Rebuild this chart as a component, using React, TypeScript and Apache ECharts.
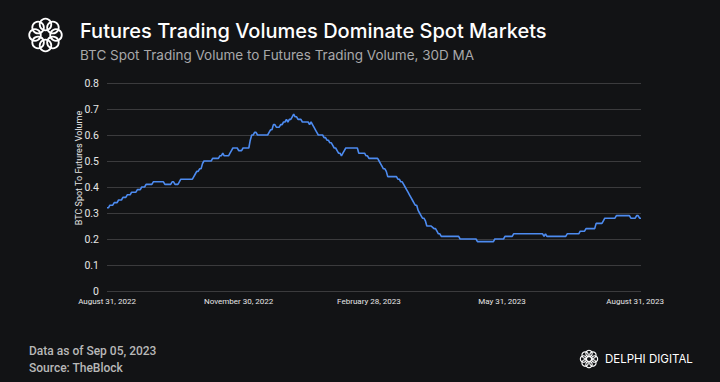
import React, { useEffect, useRef } from "react";
import * as echarts from "echarts";

const TITLE = "Futures Trading Volumes Dominate Spot Markets";
const SUBTITLE = "BTC Spot Trading Volume to Futures Trading Volume, 30D MA";
const Y_NAME = "BTC Spot To Futures Volume";
const FOOT_1 = "Data as of Sep 05, 2023";
const FOOT_2 = "Source: TheBlock";
const BRAND = "DELPHI DIGITAL";

const START_DATE = "2022-08-31";
const tickDates = ["2022-08-31", "2022-11-30", "2023-02-28", "2023-05-31", "2023-08-31"];
const tickLabels = ["August 31, 2022", "November 30, 2022", "February 28, 2023", "May 31, 2023", "August 31, 2023"];

// daily values, Aug 31 2022 -> Sep 4 2023
const ratio = [
  0.32, 0.32, 0.33, 0.33, 0.33, 0.34, 0.34, 0.34, 0.35, 0.35,
  0.35, 0.36, 0.36, 0.36, 0.37, 0.37, 0.37, 0.38, 0.38, 0.38,
  0.38, 0.39, 0.39, 0.39, 0.40, 0.40, 0.40, 0.41, 0.41, 0.41,
  0.41, 0.41, 0.42, 0.42, 0.42, 0.42, 0.42, 0.42, 0.42, 0.42,
  0.41, 0.41, 0.41, 0.41, 0.41, 0.42, 0.42, 0.41, 0.41, 0.41,
  0.42, 0.43, 0.43, 0.43, 0.43, 0.43, 0.43, 0.43, 0.43, 0.43,
  0.44, 0.45, 0.46, 0.46, 0.47, 0.47, 0.49, 0.50, 0.50, 0.50,
  0.50, 0.50, 0.50, 0.51, 0.51, 0.51, 0.51, 0.51, 0.52, 0.52,
  0.53, 0.52, 0.52, 0.52, 0.52, 0.53, 0.54, 0.55, 0.55, 0.55,
  0.55, 0.54, 0.54, 0.54, 0.55, 0.55, 0.55, 0.55, 0.55, 0.58,
  0.60, 0.60, 0.61, 0.61, 0.60, 0.60, 0.60, 0.60, 0.60, 0.60,
  0.60, 0.60, 0.61, 0.62, 0.62, 0.64, 0.64, 0.63, 0.63, 0.63,
  0.64, 0.64, 0.65, 0.65, 0.66, 0.65, 0.66, 0.66, 0.67, 0.68,
  0.67, 0.67, 0.66, 0.66, 0.66, 0.65, 0.65, 0.65, 0.65, 0.65,
  0.64, 0.65, 0.64, 0.63, 0.62, 0.61, 0.60, 0.60, 0.60, 0.60,
  0.59, 0.59, 0.58, 0.58, 0.57, 0.57, 0.56, 0.55, 0.55, 0.54,
  0.53, 0.53, 0.52, 0.53, 0.54, 0.55, 0.55, 0.55, 0.55, 0.55,
  0.55, 0.55, 0.55, 0.55, 0.53, 0.53, 0.53, 0.53, 0.53, 0.52,
  0.52, 0.51, 0.51, 0.51, 0.51, 0.51, 0.51, 0.51, 0.50, 0.49,
  0.48, 0.47, 0.47, 0.46, 0.44, 0.44, 0.44, 0.44, 0.44, 0.44,
  0.44, 0.43, 0.43, 0.42, 0.42, 0.41, 0.40, 0.39, 0.38, 0.37,
  0.36, 0.35, 0.34, 0.33, 0.33, 0.31, 0.30, 0.29, 0.28, 0.28,
  0.27, 0.25, 0.25, 0.25, 0.25, 0.245, 0.24, 0.24, 0.23, 0.22,
  0.22, 0.21, 0.21, 0.21, 0.21, 0.21, 0.21, 0.21, 0.21, 0.21,
  0.21, 0.21, 0.21, 0.21, 0.20, 0.20, 0.20, 0.20, 0.20, 0.20,
  0.20, 0.20, 0.20, 0.20, 0.20, 0.20, 0.19, 0.19, 0.19, 0.19,
  0.19, 0.19, 0.19, 0.19, 0.19, 0.19, 0.19, 0.19, 0.20, 0.20,
  0.20, 0.20, 0.20, 0.20, 0.20, 0.21, 0.21, 0.21, 0.21, 0.21,
  0.21, 0.22, 0.22, 0.22, 0.22, 0.22, 0.22, 0.22, 0.22, 0.22,
  0.22, 0.22, 0.22, 0.22, 0.22, 0.22, 0.22, 0.22, 0.22, 0.22,
  0.22, 0.22, 0.21, 0.22, 0.21, 0.21, 0.21, 0.21, 0.21, 0.21,
  0.21, 0.21, 0.21, 0.21, 0.21, 0.21, 0.21, 0.21, 0.22, 0.22,
  0.22, 0.22, 0.22, 0.22, 0.22, 0.22, 0.22, 0.23, 0.23, 0.23,
  0.23, 0.24, 0.24, 0.24, 0.24, 0.24, 0.24, 0.24, 0.26, 0.26,
  0.26, 0.26, 0.26, 0.27, 0.28, 0.28, 0.28, 0.28, 0.28, 0.28,
  0.28, 0.28, 0.29, 0.29, 0.29, 0.29, 0.29, 0.29, 0.29, 0.29,
  0.29, 0.29, 0.28, 0.28, 0.28, 0.28, 0.29, 0.29, 0.28, 0.28,
];

function buildDates(start: string, n: number): string[] {
  const out: string[] = [];
  const base = new Date(start + "T00:00:00Z").getTime();
  for (let i = 0; i < n; i++) {
    out.push(new Date(base + i * 86400000).toISOString().slice(0, 10));
  }
  return out;
}

const BG = "#121315";

function logo(cx: number, cy: number, R: number, r: number, lw: number) {
  const children: any[] = [];
  const n = 8;
  for (let i = 0; i < n; i++) {
    const a = (i / n) * Math.PI * 2;
    children.push({
      type: "circle",
      shape: { cx: cx + R * Math.cos(a), cy: cy + R * Math.sin(a), r },
      style: { fill: "none", stroke: "#ffffff", lineWidth: lw },
    });
  }
  return { type: "group", children };
}

export default function App() {
  const ref = useRef<HTMLDivElement>(null);
  useEffect(() => {
    document.body.style.margin = "0";
    document.body.style.background = BG;
    const chart = echarts.init(ref.current!, null, { renderer: "svg" });
    const dates = buildDates(START_DATE, ratio.length);
    chart.setOption({
      animation: false,
      backgroundColor: BG,
      grid: { left: 107, right: 79, top: 83, bottom: 91 },
      xAxis: {
        type: "category",
        data: dates,
        boundaryGap: false,
        axisLine: { show: false },
        axisTick: { show: false },
        splitLine: { show: false },
        axisLabel: {
          interval: (idx: number, val: string) => tickDates.indexOf(val) >= 0,
          formatter: (val: string) => {
            const i = tickDates.indexOf(val);
            return i >= 0 ? tickLabels[i] : "";
          },
          color: "#e6e6e6",
          fontSize: 8,
          fontFamily: "'Liberation Sans Narrow', Roboto",
          margin: 6,
          hideOverlap: false,
        },
      },
      yAxis: {
        type: "value",
        min: 0,
        max: 0.8,
        interval: 0.1,
        axisLine: { show: false },
        axisTick: { show: false },
        splitLine: { lineStyle: { color: "#3b3b3d", width: 1 } },
        axisLabel: {
          color: "#e6e6e6",
          fontSize: 10.5,
          fontFamily: "Roboto",
          margin: 8,
          formatter: (v: number) => (v === 0 ? "0" : v.toFixed(1)),
        },
      },
      series: [
        {
          type: "line",
          data: ratio,
          showSymbol: false,
          symbol: "none",
          lineStyle: { color: "#4d8bf0", width: 1.6 },
        },
      ],
      graphic: [
        logo(45.5, 35, 10.5, 5.8, 1.8),
        {
          type: "text",
          left: 80,
          top: 21,
          style: { text: TITLE, fill: "#ffffff", font: "500 20px Inter" },
        },
        {
          type: "text",
          left: 80,
          top: 48,
          style: { text: SUBTITLE, fill: "#a8a8aa", font: "400 13.5px Inter" },
        },
        {
          type: "text",
          x: 78.5,
          y: 168,
          rotation: Math.PI / 2,
          style: {
            text: Y_NAME,
            fill: "#e6e6e6",
            font: "9px Roboto",
            align: "center",
            verticalAlign: "middle",
          },
        },
        {
          type: "text",
          left: 29,
          top: 345,
          style: { text: FOOT_1, fill: "#b8b8b8", font: "500 12px Roboto" },
        },
        {
          type: "text",
          left: 29,
          top: 362,
          style: { text: FOOT_2, fill: "#b8b8b8", font: "500 12px Roboto" },
        },
        logo(589, 359, 5.5, 3.2, 1.1),
        {
          type: "text",
          left: 605,
          top: 353,
          style: { text: BRAND, fill: "#ffffff", font: "400 11.5px Inter" },
        },
      ],
    });
    return () => chart.dispose();
  }, []);
  return <div ref={ref} style={{ width: 720, height: 382, background: BG }} />;
}
